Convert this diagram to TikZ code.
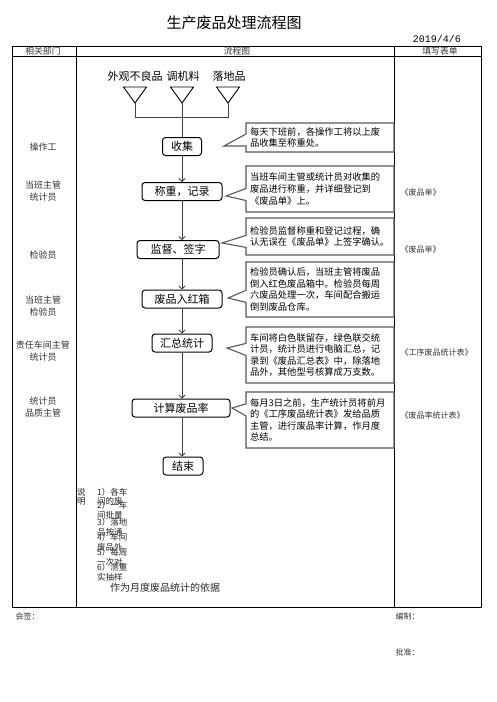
\documentclass[tikz,border=0pt]{standalone}
\usepackage{fontspec}
\setmainfont{Noto Sans CJK SC}
\newfontfamily\datefont{Liberation Mono}
\usepackage{xcolor}
\usetikzlibrary{shapes,shapes.callouts,arrows.meta,positioning,calc}

\tikzset{
  procbox/.style={draw, rounded corners=3pt, line width=1pt, minimum height=18pt, inner sep=2pt, font=\fontsize{11}{13}\selectfont},
  note/.style={rectangle callout, draw=black!65, line width=1.1pt, fill=white, text width=140pt, inner sep=4pt, align=left, callout pointer width=12pt, font=\fontsize{9.3}{11.6}\selectfont},
  flow/.style={draw=black!75, line width=0.8pt, -{Straight Barb[length=3pt,width=6pt]}},
  dept/.style={font=\fontsize{9}{12}\selectfont, align=center, text=black!80},
  form/.style={font=\fontsize{8}{10}\selectfont, anchor=west, text=black!80},
  remark/.style={font=\fontsize{8.5}{9}\selectfont, anchor=west, inner sep=0pt, text=black!85},
}

\begin{document}
\begin{tikzpicture}[x=1pt, y=-1pt]
    \useasboundingbox (0,0) rectangle (496,702);

    % title and table frame
    \node (title) at (234,23) {\fontsize{15}{17}\selectfont 生产废品处理流程图};
    \node (date) at (437,39) {\datefont\fontsize{10}{12}\selectfont 2019/4/6};
    \draw[line width=0.9pt] (12,46) rectangle (481,607);
    \draw[line width=0.9pt] (12,56) -- (481,56);
    \draw[line width=0.9pt] (76,46) -- (76,607);
    \draw[line width=0.9pt] (394,46) -- (394,607);
    \node[dept, font=\fontsize{8.8}{10}\selectfont] (hdept) at (43,51) {相关部门};
    \node[dept, font=\fontsize{8.8}{10}\selectfont] (hflow) at (237,51) {流程图};
    \node[dept, font=\fontsize{8.8}{10}\selectfont] (hform) at (440,51) {填写表单};

    % sources
    \node[font=\fontsize{11}{13}\selectfont] (bad) at (135,76) {外观不良品};
    \node[font=\fontsize{11}{13}\selectfont] (tune) at (183,76) {调机料};
    \node[font=\fontsize{11}{13}\selectfont] (floor) at (229,76) {落地品};
    \coordinate (tri1) at (135,103);
    \coordinate (tri2) at (182,103);
    \coordinate (tri3) at (228,103);
    \foreach \t in {tri1,tri2,tri3}
        \draw[line width=0.9pt] (\t) -- ++(-11.5,-16) -- ++(23,0) -- cycle;
    \coordinate (bar1) at (135,117);
    \coordinate (join) at (182,117);
    \coordinate (bar3) at (228,117);
    \draw[line width=0.9pt, black!75] (tri1) -- (bar1) -- (bar3) -- (tri3);
    \draw[line width=0.9pt, black!75] (tri2) -- (join);

    % process steps
    \node[procbox, minimum width=39pt] (collect) at (182,146.5) {收集};
    \node[procbox, minimum width=80pt] (weigh) at (182,191.5) {称重，记录};
    \node[procbox, minimum width=82pt] (sign) at (178,249.5) {监督、签字};
    \node[procbox, minimum width=80pt] (redbox) at (182,299) {废品入红箱};
    \node[procbox, minimum width=60pt] (sum) at (182,343) {汇总统计};
    \node[procbox, minimum width=98pt] (rate) at (181,408) {计算废品率};
    \node[procbox, minimum width=40pt] (finish) at (183,466) {结束};

    \draw[line width=0.9pt, black!75] (join) -- (collect);
    \draw[flow] (collect) -- (weigh);
    \draw[flow] (weigh.south -| collect) -- (sign.north -| collect);
    \draw[flow] (sign.south -| collect) -- (redbox.north -| collect);
    \draw[flow] (redbox) -- (sum);
    \draw[flow] (sum) -- (sum |- rate.north);
    \draw[flow] (rate.south -| sum) -- (sum |- finish.north);

    % explanations
    \coordinate (tip1) at (224,146);
    \coordinate (tip2) at (226,196);
    \coordinate (tip3) at (222,243);
    \coordinate (tip4) at (228,298);
    \coordinate (tip5) at (227,348);
    \coordinate (tip6) at (232,408);
    \node[note, minimum height=29pt, callout absolute pointer={(tip1)}] (note1) at (320,137.5) {每天下班前，各操作工将以上废\\品收集至称重处。};
    \node[note, minimum height=46pt, callout absolute pointer={(tip2)}] (note2) at (320,189) {当班车间主管或统计员对收集的\\废品进行称重，并详细登记到\\《废品单》上。};
    \node[note, minimum height=37pt, callout absolute pointer={(tip3)}] (note3) at (320,236.5) {检验员监督称重和登记过程，确\\认无误在《废品单》上签字确认。};
    \node[note, minimum height=55pt, callout absolute pointer={(tip4)}] (note4) at (320,289.5) {检验员确认后，当班主管将废品\\倒入红色废品箱中。检验员每周\\六废品处理一次，车间配合搬运\\倒到废品仓库。};
    \node[note, minimum height=56pt, callout absolute pointer={(tip5)}] (note5) at (320,355) {车间将白色联留存，绿色联交统\\计员，统计员进行电脑汇总，记\\录到《废品汇总表》中，除落地\\品外，其他型号核算成万支数。};
    \node[note, minimum height=56pt, callout absolute pointer={(tip6)}] (note6) at (320,420) {每月3日之前，生产统计员将前月\\的《工序废品统计表》发给品质\\主管，进行废品率计算，作月度\\总结。};

    % departments
    \node[dept] (d1) at (43,147) {操作工};
    \node[dept] (d2) at (43,191) {当班主管\\统计员};
    \node[dept] (d3) at (43,255) {检验员};
    \node[dept] (d4) at (43,306.5) {当班主管\\检验员};
    \node[dept] (d5) at (43,351.5) {责任车间主管\\统计员};
    \node[dept] (d6) at (43,407.5) {统计员\\品质主管};

    % forms
    \node[form] (f1) at (397,192) {《废品单》};
    \node[form] (f2) at (397,249) {《废品单》};
    \node[form] (f3) at (397,352) {《工序废品统计表》};
    \node[form] (f4) at (397,415) {《废品率统计表》};

    % remarks
    \node[remark] (say1) at (77,492) {说};
    \node[remark] (say2) at (77,501) {明};
    \node[remark] (r1) at (97,492) {1）各车};
    \node[remark] (r2) at (97,501) {间的废};
    \node[remark] (r3) at (97,505) {2）一车};
    \node[remark] (r4) at (97,515) {间批量};
    \node[remark] (r5) at (97,522) {3）落地};
    \node[remark] (r6) at (97,532) {品按通};
    \node[remark] (r7) at (97,537) {4）车间};
    \node[remark] (r8) at (97,547) {废品外};
    \node[remark] (r9) at (97,552) {5）每周};
    \node[remark] (r10) at (97,562) {一次对};
    \node[remark] (r11) at (97,567) {6）测重};
    \node[remark] (r12) at (97,577) {实抽样};
    \node[remark, font=\fontsize{10}{12}\selectfont] (r13) at (110,588) {作为月度废品统计的依据};

    % signatures
    \node[form] (cosign) at (12,616) {会签：};
    \node[form] (edit) at (392,616) {编制：};
    \node[form] (approve) at (392,652) {批准：};
\end{tikzpicture}
\end{document}
